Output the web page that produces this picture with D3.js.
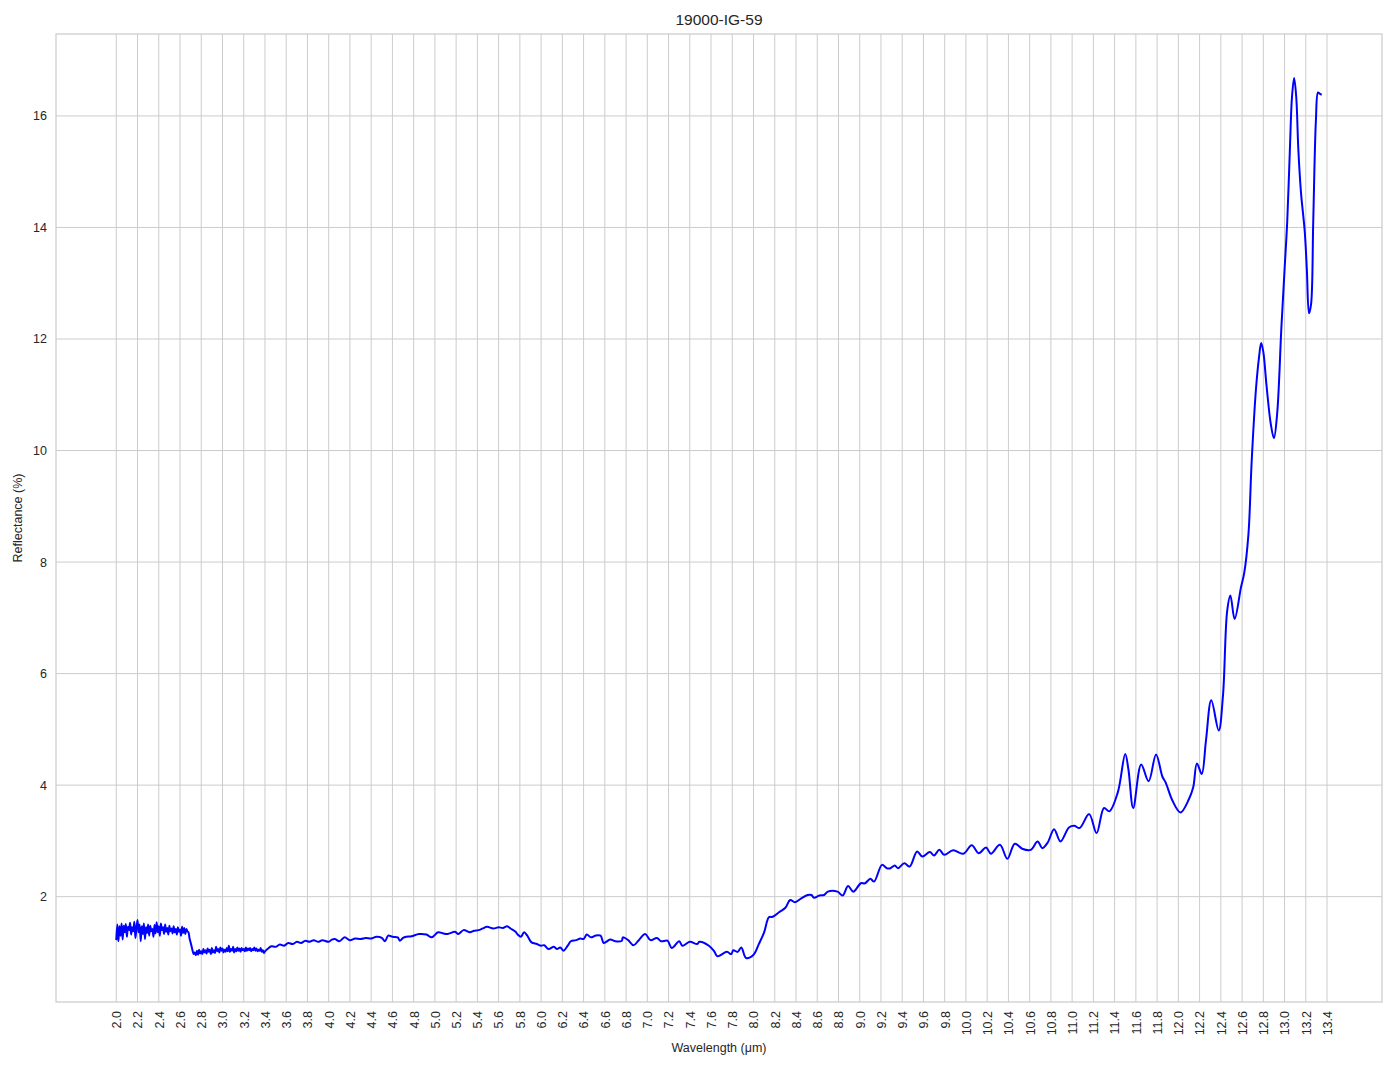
<!DOCTYPE html>
<html>
<head>
<meta charset="utf-8">
<script src="https://cdn.jsdelivr.net/npm/d3@7"></script>
<style>
  html, body { margin: 0; padding: 0; background: #ffffff; }
  svg { display: block; font-family: "Liberation Sans", Arial, "DejaVu Sans", sans-serif; }
</style>
</head>
<body>
<svg id="chart" width="1394" height="1069"></svg>
<script>
// ---------- DATA ----------
const chartTitle = "19000-IG-59";
const xLabel = "Wavelength (\u03bcm)";
const yLabel = "Reflectance (%)";

// noisy detector segment: 2.00 .. 3.40 µm sampled every 0.01 µm
const noisyStart = 2.00;
const noisyStep = 0.01;
const noisyValues = [
  1.22,1.50,1.20,1.47,1.30,1.52,1.23,1.48,1.36,1.51,
  1.28,1.46,1.40,1.53,1.32,1.45,1.38,1.55,1.26,1.44,
  1.58,1.36,1.50,1.20,1.47,1.33,1.52,1.24,1.45,1.35,
  1.50,1.30,1.48,1.38,1.42,1.28,1.49,1.34,1.54,1.36,
  1.47,1.30,1.52,1.40,1.45,1.33,1.50,1.37,1.44,1.32,
  1.48,1.38,1.43,1.34,1.47,1.36,1.42,1.32,1.45,1.37,
  1.41,1.30,1.46,1.35,1.44,1.33,1.42,1.38,1.36,1.25,
  1.18,
  1.10,1.02,0.97,1.00,0.95,1.03,0.96,1.05,0.98,1.02,
  0.97,1.06,1.00,1.04,0.98,1.07,1.01,1.05,0.97,1.08,
  1.00,1.04,0.99,1.10,1.02,1.06,1.00,1.09,1.03,1.07,
  1.00,1.05,1.01,1.08,1.02,1.12,1.01,1.06,1.03,1.10,
  1.00,1.06,1.02,1.09,1.03,1.07,1.01,1.08,1.04,1.06,
  1.02,1.09,1.03,1.07,1.04,1.08,1.02,1.06,1.04,1.09,
  1.03,1.07,1.02,1.05,1.03,1.08,1.01,1.04,0.99,1.02
];

// remaining spectrum, 3.43 .. 13.35 µm
const wavelengths = [
  3.43,3.46,3.50,3.54,3.58,3.62,3.66,3.70,3.74,3.78,3.82,3.86,3.90,3.94,
  4.00,4.03,4.06,4.10,4.15,4.20,4.25,4.30,4.35,4.40,4.45,4.50,4.53,4.56,
  4.60,4.65,4.67,4.70,4.73,4.78,4.85,4.92,4.97,5.03,5.08,5.12,5.19,5.22,
  5.27,5.33,5.37,5.41,5.45,5.49,5.55,5.60,5.64,5.68,5.72,5.76,5.78,5.81,
  5.84,5.87,5.91,5.96,6.00,6.03,6.07,6.12,6.15,6.18,6.21,6.25,6.28,6.33,
  6.37,6.40,6.43,6.47,6.51,6.56,6.59,6.65,6.70,6.76,6.77,6.82,6.87,6.92,
  6.98,7.03,7.09,7.13,7.19,7.23,7.30,7.33,7.40,7.47,7.49,7.58,7.63,7.66,
  7.75,7.79,7.81,7.85,7.885,7.93,8.00,8.05,8.10,8.145,8.18,8.24,8.30,8.345,
  8.39,8.45,8.51,8.545,8.57,8.62,8.665,8.70,8.79,8.84,8.89,8.94,9.01,9.05,
  9.10,9.135,9.21,9.255,9.29,9.33,9.36,9.42,9.47,9.54,9.59,9.66,9.70,9.75,
  9.795,9.88,9.975,10.055,10.12,10.19,10.235,10.32,10.39,10.46,10.53,10.61,
  10.675,10.72,10.77,10.83,10.89,10.97,11.02,11.07,11.16,11.23,11.30,11.35,
  11.43,11.50,11.53,11.575,11.65,11.72,11.79,11.85,11.88,11.945,12.02,12.10,
  12.14,12.175,12.22,12.26,12.31,12.38,12.42,12.46,12.49,12.53,12.59,12.62,
  12.66,12.69,12.73,12.76,12.78,12.80,12.83,12.87,12.90,12.93,12.97,13.00,
  13.025,13.05,13.07,13.09,13.11,13.13,13.155,13.19,13.21,13.23,13.25,13.27,
  13.295,13.315,13.33,13.35
];
const reflectance = [
  1.07,1.11,1.10,1.14,1.12,1.17,1.15,1.19,1.17,1.21,1.19,1.22,1.19,1.22,
  1.19,1.23,1.24,1.20,1.27,1.22,1.25,1.24,1.26,1.25,1.28,1.26,1.20,1.30,
  1.28,1.27,1.21,1.26,1.28,1.29,1.33,1.32,1.27,1.36,1.34,1.33,1.37,1.33,
  1.40,1.36,1.39,1.40,1.43,1.46,1.43,1.45,1.44,1.47,1.42,1.37,1.32,1.28,
  1.36,1.30,1.18,1.15,1.12,1.13,1.06,1.10,1.06,1.09,1.03,1.12,1.20,1.22,
  1.25,1.24,1.32,1.27,1.30,1.30,1.17,1.23,1.20,1.21,1.27,1.22,1.13,1.22,
  1.33,1.22,1.26,1.20,1.21,1.08,1.20,1.12,1.19,1.15,1.19,1.12,1.02,0.93,
  1.01,0.97,1.04,1.01,1.09,0.90,0.96,1.15,1.36,1.63,1.64,1.72,1.80,1.94,
  1.90,1.97,2.03,2.03,1.98,2.02,2.03,2.09,2.09,2.02,2.19,2.09,2.24,2.24,
  2.32,2.27,2.57,2.51,2.51,2.56,2.51,2.60,2.54,2.81,2.72,2.80,2.74,2.84,
  2.75,2.83,2.77,2.92,2.78,2.88,2.77,2.93,2.68,2.95,2.86,2.84,
  2.99,2.87,2.97,3.21,2.99,3.24,3.27,3.23,3.48,3.14,3.59,3.53,
  3.87,4.56,4.28,3.59,4.37,4.07,4.55,4.15,4.05,3.72,3.51,3.75,
  3.96,4.39,4.20,4.80,5.52,4.98,5.60,7.13,7.40,6.98,7.55,7.80,
  8.50,9.79,11.08,11.68,11.93,11.77,11.17,10.48,10.22,10.65,12.20,13.24,
  14.10,15.39,16.34,16.68,16.34,15.39,14.62,13.93,13.24,12.46,12.63,14.10,
  15.91,16.42,16.40,16.38
];

const xTickValues = d3.range(0, 58).map(i => +(2.0 + i * 0.2).toFixed(1));
const yTickValues = [2, 4, 6, 8, 10, 12, 14, 16];

// ---------- BUILD SERIES ----------
const series = noisyValues.map((v, i) => ({ x: noisyStart + i * noisyStep, y: v }))
  .concat(wavelengths.map((w, i) => ({ x: w, y: reflectance[i] })));

// ---------- LAYOUT ----------
const W = 1394, H = 1069;
const plot = { left: 56, right: 1382, top: 34, bottom: 1002 };

const svg = d3.select("#chart");

const xExt = d3.extent(series, d => d.x);
const yExt = d3.extent(series, d => d.y);
const xPad = (xExt[1] - xExt[0]) * 0.05;
const yPad = (yExt[1] - yExt[0]) * 0.05;

const x = d3.scaleLinear().domain([xExt[0] - xPad, xExt[1] + xPad]).range([plot.left, plot.right]);
const y = d3.scaleLinear().domain([yExt[0] - yPad, yExt[1] + yPad]).range([plot.bottom, plot.top]);

const gridColor = "#cccccc";
const textColor = "#262626";

// grid lines
svg.append("g").selectAll("line.vg").data(xTickValues).join("line")
  .attr("x1", d => x(d)).attr("x2", d => x(d))
  .attr("y1", plot.top).attr("y2", plot.bottom)
  .attr("stroke", gridColor).attr("stroke-width", 1);
svg.append("g").selectAll("line.hg").data(yTickValues).join("line")
  .attr("x1", plot.left).attr("x2", plot.right)
  .attr("y1", d => y(d)).attr("y2", d => y(d))
  .attr("stroke", gridColor).attr("stroke-width", 1);

// axes (labels only, no tick marks)
const xAxis = d3.axisBottom(x).tickValues(xTickValues).tickSize(0).tickPadding(0)
  .tickFormat(d => d.toFixed(1));
const gx = svg.append("g").attr("transform", `translate(0,${plot.bottom})`).call(xAxis);
gx.select(".domain").remove();
gx.selectAll("text")
  .attr("transform", "rotate(-90)")
  .attr("x", -9).attr("y", 0).attr("dy", "0.35em")
  .style("text-anchor", "end")
  .attr("fill", textColor)
  .style("font-size", "12.5px");

const yAxis = d3.axisLeft(y).tickValues(yTickValues).tickSize(0).tickPadding(9)
  .tickFormat(d3.format("d"));
const gy = svg.append("g").attr("transform", `translate(${plot.left},0)`).call(yAxis);
gy.select(".domain").remove();
gy.selectAll("text").attr("fill", textColor).style("font-size", "12.5px");

// frame
svg.append("rect")
  .attr("x", plot.left).attr("y", plot.top)
  .attr("width", plot.right - plot.left).attr("height", plot.bottom - plot.top)
  .attr("fill", "none").attr("stroke", gridColor).attr("stroke-width", 1.25);

// line
const line = d3.line()
  .x(d => x(d.x)).y(d => y(d.y))
  .curve(d3.curveCatmullRom.alpha(0.5));
svg.append("path").datum(series)
  .attr("d", line)
  .attr("fill", "none")
  .attr("stroke", "#0000ff")
  .attr("stroke-width", 2)
  .attr("stroke-linejoin", "round");

// title and labels
svg.append("text")
  .attr("x", (plot.left + plot.right) / 2).attr("y", 25)
  .attr("text-anchor", "middle").attr("fill", textColor)
  .style("font-size", "15.5px").text(chartTitle);

svg.append("text")
  .attr("x", (plot.left + plot.right) / 2).attr("y", 1052)
  .attr("text-anchor", "middle").attr("fill", textColor)
  .style("font-size", "12.5px").text(xLabel);

svg.append("text")
  .attr("transform", `translate(22,${(plot.top + plot.bottom) / 2}) rotate(-90)`)
  .attr("text-anchor", "middle").attr("fill", textColor)
  .style("font-size", "12.5px").text(yLabel);
</script>
</body>
</html>
